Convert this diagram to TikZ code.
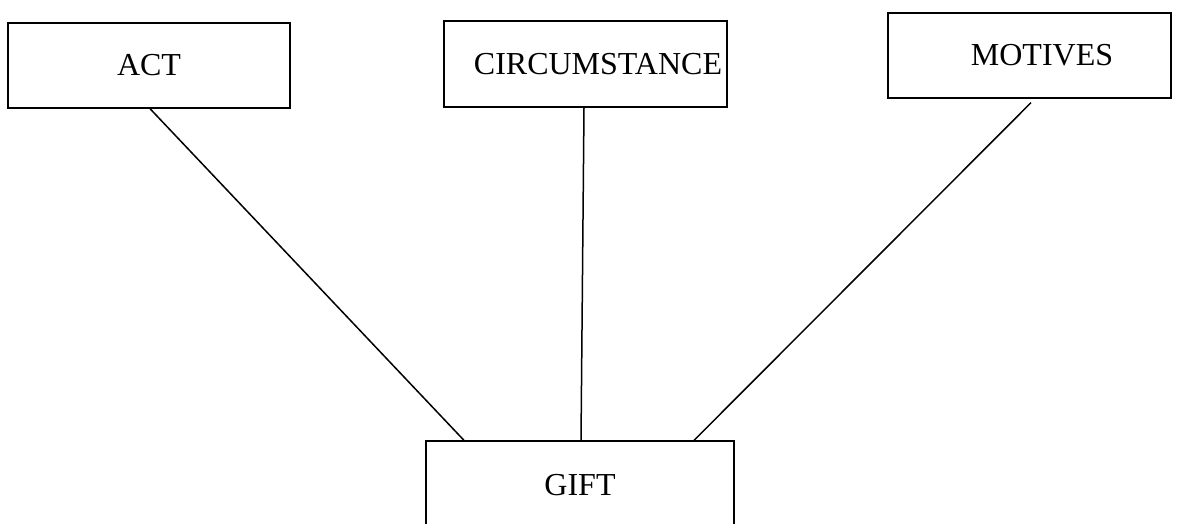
\documentclass[tikz,border=0pt]{standalone}
\usepackage{fontspec}
\setmainfont{Liberation Serif}
\begin{document}
\begin{tikzpicture}[x=1pt,y=-1pt,
  box/.style={draw=black, line width=1.3pt, inner sep=0pt, font=\fontsize{32}{38}\selectfont, text=black},
  conn/.style={draw=black, line width=1.5pt}]
\useasboundingbox[fill=white] (0,0) rectangle (1186,523);
\node[box, minimum width=282, minimum height=85] (act) at (149,65.5) {ACT};
\node[box, minimum width=283, minimum height=86] (circ) at (585.5,64) {\hspace{25pt}CIRCUMSTANCE};
\node[box, minimum width=283, minimum height=85] (mot) at (1029.5,55.5) {\hspace{25pt}MOTIVES};
\node[box, minimum width=308, minimum height=88] (gift) at (580,485) {GIFT};
\draw[conn] ([xshift=1pt]act.south) -- ([xshift=-116pt]gift.north);
\draw[conn] ([xshift=-1.5pt]circ.south) -- ([xshift=1pt]gift.north);
\draw[conn] ([xshift=1.5pt,yshift=-4pt]mot.south) -- ([xshift=114pt]gift.north);
\end{tikzpicture}
\end{document}
